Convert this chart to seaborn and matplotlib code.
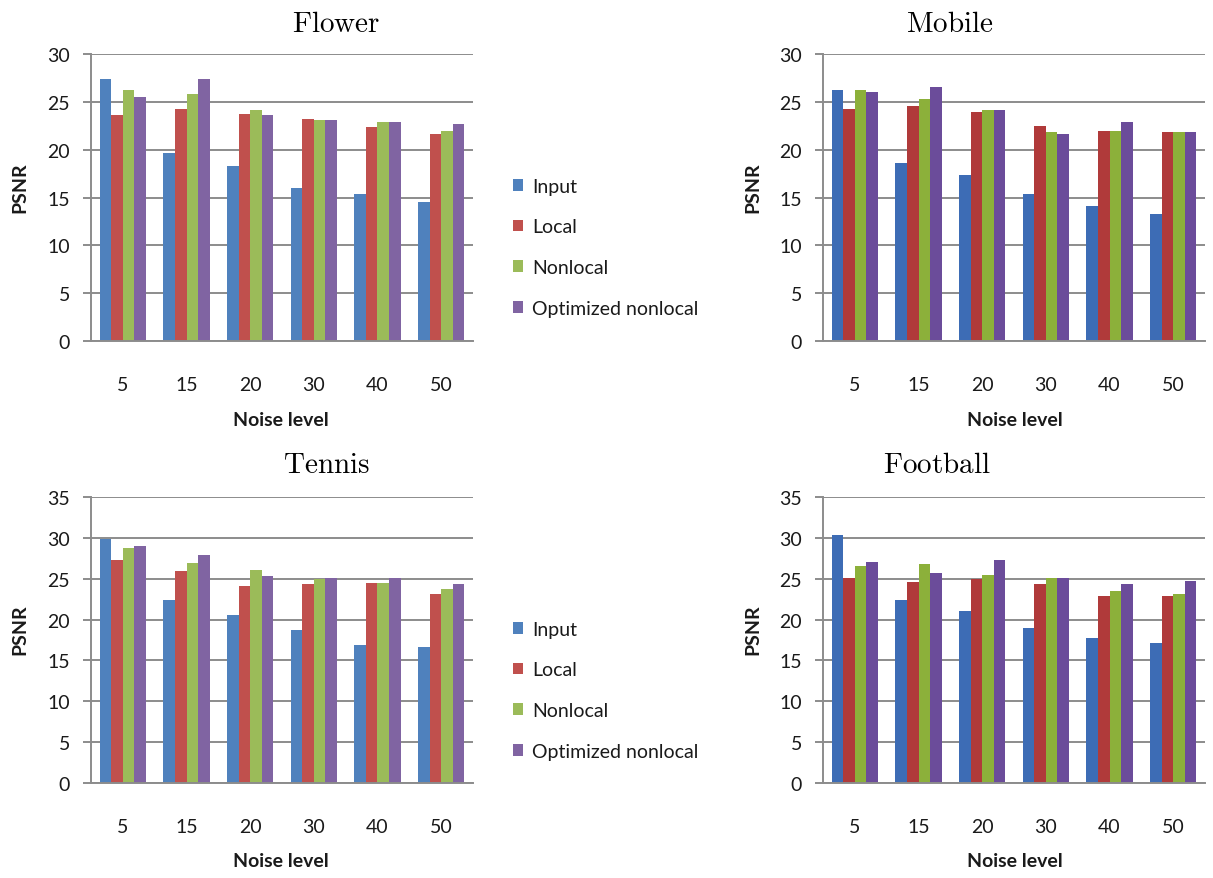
import numpy as np
import pandas as pd
import matplotlib
matplotlib.use("Agg")
import matplotlib.pyplot as plt
from matplotlib.patches import Patch
import seaborn as sns

sns.set_theme(style="white")
plt.rcParams["font.family"] = ["Lato", "DejaVu Sans"]
plt.rcParams["mathtext.fontset"] = "cm"

noise_levels = ["5", "15", "20", "30", "40", "50"]
methods = ["Input", "Local", "Nonlocal", "Optimized nonlocal"]

# PSNR per noise level, one list per method
flower_input = [27.4, 19.7, 18.3, 16.0, 15.35, 14.5]
flower_local = [23.6, 24.3, 23.75, 23.2, 22.35, 21.65]
flower_nonlocal = [26.2, 25.8, 24.1, 23.05, 22.9, 22.0]
flower_optimized = [25.5, 27.4, 23.6, 23.05, 22.9, 22.7]

mobile_input = [26.2, 18.65, 17.3, 15.35, 14.15, 13.25]
mobile_local = [24.25, 24.6, 23.9, 22.5, 22.0, 21.8]
mobile_nonlocal = [26.2, 25.3, 24.1, 21.8, 22.0, 21.8]
mobile_optimized = [26.0, 26.5, 24.1, 21.65, 22.9, 21.8]

tennis_input = [29.9, 22.4, 20.6, 18.75, 16.9, 16.7]
tennis_local = [27.35, 25.9, 24.1, 24.3, 24.5, 23.1]
tennis_nonlocal = [28.8, 26.95, 26.1, 25.0, 24.5, 23.7]
tennis_optimized = [29.0, 27.95, 25.3, 25.05, 25.1, 24.3]

football_input = [30.4, 22.45, 21.0, 19.0, 17.75, 17.15]
football_local = [25.1, 24.65, 25.0, 24.3, 22.9, 22.9]
football_nonlocal = [26.6, 26.75, 25.5, 25.1, 23.5, 23.1]
football_optimized = [27.0, 25.7, 27.35, 25.1, 24.3, 24.7]

panel_titles = ["Flower", "Mobile", "Tennis", "Football"]
panel_series = [
    [flower_input, flower_local, flower_nonlocal, flower_optimized],
    [mobile_input, mobile_local, mobile_nonlocal, mobile_optimized],
    [tennis_input, tennis_local, tennis_nonlocal, tennis_optimized],
    [football_input, football_local, football_nonlocal, football_optimized],
]
panel_ymax = [30, 30, 35, 35]

left_palette = ["#4F81BD", "#C0504D", "#9BBB59", "#8064A2"]
right_palette = ["#3D6CB5", "#B03A3A", "#8CB03A", "#6B4C9A"]

W, H = 1213, 879
fig = plt.figure(figsize=(W / 100, H / 100), dpi=100)


def px_axes(left, top, right, bottom):
    return fig.add_axes([left / W, 1 - bottom / H, (right - left) / W, (bottom - top) / H])


boxes = [(91, 55, 473, 342), (823, 55, 1205, 342),
         (91, 498, 473, 784), (823, 498, 1205, 784)]
title_pos = [(336, 32), (950, 32), (326, 473), (937, 473)]
xlabel_pos = [(281, 421), (1015, 421), (281, 862), (1015, 862)]
ylabel_pos = [(20, 188), (753, 188), (20, 630), (753, 630)]

grid_c = "#8C8C8C"
text_c = "#1A1A1A"
fs = 14

for i in range(4):
    ax = px_axes(*boxes[i])
    rows = []
    for m, vals in zip(methods, panel_series[i]):
        for n, v in zip(noise_levels, vals):
            rows.append({"noise": n, "psnr": v, "method": m})
    df = pd.DataFrame(rows)
    pal = left_palette if i % 2 == 0 else right_palette
    sns.barplot(data=df, x="noise", y="psnr", hue="method", order=noise_levels,
                hue_order=methods, palette=pal, width=0.73, saturation=1,
                legend=False, ax=ax, linewidth=0, errorbar=None)
    ax.set_xlim(-0.5, 5.5)
    ax.set_ylim(0, panel_ymax[i])
    ax.set_yticks(np.arange(0, panel_ymax[i] + 1, 5))
    ax.yaxis.grid(True, color=grid_c, linewidth=1.4)
    ax.set_axisbelow(True)
    for s in ["top", "right"]:
        ax.spines[s].set_visible(False)
    for s in ["left", "bottom"]:
        ax.spines[s].set_color(grid_c)
        ax.spines[s].set_linewidth(1.4)
    ax.tick_params(axis="y", length=6, width=1.4, color=grid_c, pad=9,
                   labelsize=fs, labelcolor=text_c, left=True)
    ax.tick_params(axis="x", length=0, pad=25, labelsize=fs, labelcolor=text_c)
    ax.set_xlabel("")
    ax.set_ylabel("")

    fig.text(title_pos[i][0] / W, 1 - title_pos[i][1] / H, r"$\mathrm{%s}$" % panel_titles[i],
             ha="center", va="baseline", fontsize=21, color="black")
    fig.text(xlabel_pos[i][0] / W, 1 - xlabel_pos[i][1] / H, "Noise level",
             ha="center", va="center", fontsize=fs, fontweight="bold", color=text_c)
    fig.text(ylabel_pos[i][0] / W, 1 - ylabel_pos[i][1] / H, "PSNR", rotation=90,
             ha="center", va="center", fontsize=fs, fontweight="bold", color=text_c)

    if i % 2 == 0:
        handles = [Patch(facecolor=c, edgecolor="none", label=m) for c, m in zip(pal, methods)]
        ly = 171 if i == 0 else 614
        fig.legend(handles=handles, loc="upper left",
                   bbox_to_anchor=(505 / W, 1 - ly / H), frameon=False,
                   fontsize=fs, handlelength=0.55, handleheight=0.55,
                   handletextpad=0.45, labelspacing=1.22, borderaxespad=0,
                   labelcolor=text_c)

fig.savefig("out.png", dpi=100)
